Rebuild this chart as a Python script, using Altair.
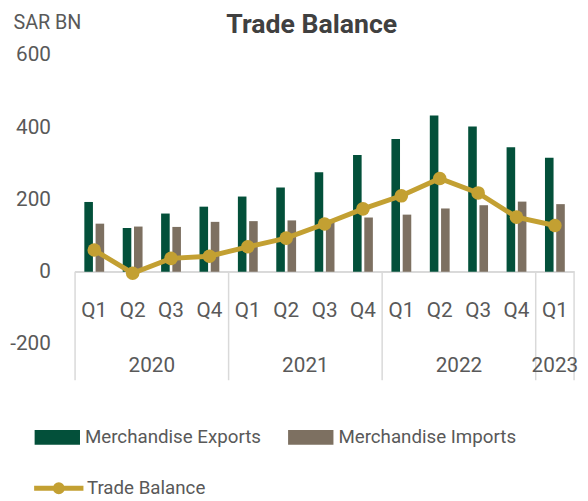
import altair as alt
import pandas as pd

years = ["2020"] * 4 + ["2021"] * 4 + ["2022"] * 4 + ["2023"]
quarters = ["Q1", "Q2", "Q3", "Q4"] * 3 + ["Q1"]
exports = [193, 121, 161, 180, 208, 233, 275, 323, 367, 432, 402, 344, 315]
imports = [133, 125, 124, 138, 140, 142, 142, 150, 158, 175, 184, 194, 187]
trade_balance = [60, -4, 37, 43, 69, 93, 132, 174, 210, 258, 218, 151, 128]
series_names = ["Merchandise Exports", "Merchandise Imports"]
line_name = "Trade Balance"
y_ticks = [-200, 0, 200, 400, 600]

GREEN = "#03503A"
TAUPE = "#7D7061"
GOLD = "#C3A032"
TEXT = "#595959"
GRID = "#D9D9D9"
FONT = "Roboto"
FS = 21

keys = [f"{y} {q}" for y, q in zip(years, quarters)]

bars_df = pd.DataFrame({
    "key": keys * 2,
    "series": [series_names[0]] * len(keys) + [series_names[1]] * len(keys),
    "value": exports + imports,
})
line_df = pd.DataFrame({
    "key": keys, "quarter": quarters, "year": years,
    "value": trade_balance, "series": line_name,
})
first_keys = [k for k, q in zip(keys, quarters) if q == "Q1"]
bound_df = pd.DataFrame({"key": first_keys})
end_df = pd.DataFrame({"key": [keys[-1]]})
full_years = ["2020", "2021", "2022"]
year_mid_df = pd.DataFrame({"key": [f"{y} Q2" for y in full_years], "year": full_years})
year_last_df = pd.DataFrame({"key": [keys[-1]], "year": [years[-1]]})

xscale = alt.Scale(domain=keys, paddingInner=0, paddingOuter=0)
yscale = alt.Scale(domain=[-300, 600], nice=False, zero=False)


def X(bp=0.5):
    return alt.X("key:N", scale=xscale, axis=None, sort=keys, bandPosition=bp)


bars = alt.Chart(bars_df).mark_bar().encode(
    x=alt.X("key:N", scale=xscale, axis=None, sort=keys),
    xOffset=alt.XOffset("series:N", sort=series_names,
                        scale=alt.Scale(domain=series_names, paddingInner=0.237, paddingOuter=0.825)),
    y=alt.Y("value:Q", scale=yscale, title="SAR BN",
            axis=alt.Axis(values=y_ticks, grid=False, domain=False, ticks=False,
                          labelExpr="datum.value < 0 ? '-' + abs(datum.value) : '' + datum.value",
                          labelPadding=25, labelFontSize=FS, labelColor=TEXT, labelFont=FONT,
                          titleAngle=0, titleAlign="left", titleBaseline="alphabetic",
                          titleX=-63, titleY=-27, titleFontSize=20, titleFontWeight="normal",
                          titleColor=TEXT, titleFont=FONT)),
    fill=alt.Fill("series:N", scale=alt.Scale(domain=series_names, range=[GREEN, TAUPE]),
                  legend=alt.Legend(orient="none", legendX=-41, legendY=365, direction="horizontal",
                                    title=None, symbolType="M-1,-0.326H1V0.326H-1Z", symbolSize=2116,
                                    symbolStrokeWidth=0, labelFontSize=19, labelFont=FONT,
                                    labelColor=TEXT, labelOffset=5, columnPadding=27, labelLimit=400)),
)

zero_rule = alt.Chart(line_df).mark_rule(color=GRID, strokeWidth=1.5).encode(y=alt.datum(0))

bound_rules = alt.Chart(bound_df).mark_rule(color=GRID, strokeWidth=1.5).encode(
    x=X(0), y=alt.datum(0), y2=alt.datum(-300))
end_rule = alt.Chart(end_df).mark_rule(color=GRID, strokeWidth=1.5).encode(
    x=X(1), y=alt.datum(0), y2=alt.datum(-300))

line = alt.Chart(line_df).mark_line(strokeWidth=5).encode(
    x=X(),
    y=alt.Y("value:Q", scale=yscale),
    stroke=alt.Stroke("series:N", scale=alt.Scale(domain=[line_name], range=[GOLD]),
                      legend=alt.Legend(orient="none", legendX=-44, legendY=412, title=None,
                                        symbolType="M-1,0H1M0.14,0A0.14,0.14 0 1 1 -0.14,0A0.14,0.14 0 1 1 0.14,0Z",
                                        symbolSize=2500, symbolStrokeWidth=5, symbolFillColor=GOLD,
                                        labelFontSize=19, labelFont=FONT, labelColor=TEXT, labelOffset=1,
                                        labelLimit=400)),
)
points = alt.Chart(line_df).mark_point(filled=True, size=190, color=GOLD, opacity=1).encode(
    x=X(), y=alt.Y("value:Q", scale=yscale))

q_text = alt.Chart(line_df).mark_text(fontSize=FS, font=FONT, color=TEXT, baseline="middle").encode(
    x=X(), y=alt.datum(-109), text="quarter:N")
y_text1 = alt.Chart(year_mid_df).mark_text(fontSize=FS, font=FONT, color=TEXT, baseline="middle").encode(
    x=X(1), y=alt.datum(-262), text="year:N")
y_text2 = alt.Chart(year_last_df).mark_text(fontSize=FS, font=FONT, color=TEXT, baseline="middle").encode(
    x=X(0.5), y=alt.datum(-262), text="year:N")

chart = alt.layer(
    zero_rule, bound_rules, end_rule, bars, line, points, q_text, y_text1, y_text2
).resolve_scale(fill="independent", stroke="independent").properties(
    width=506, height=330, autosize="none",
    padding={"left": 68, "top": 44, "right": 6, "bottom": 119},
    title=alt.Title("Trade Balance", fontSize=27, fontWeight="bold", font=FONT, color="#404040",
                    anchor="middle", dx=-13, baseline="alphabetic", offset=0, dy=48),
).configure_view(stroke=None)

chart.save("out.html", embed_options={"renderer": "svg", "actions": False})
